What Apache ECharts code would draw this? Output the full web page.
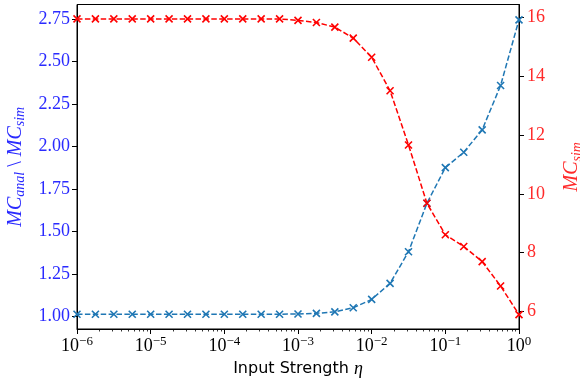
<!DOCTYPE html>
<html>
<head>
<meta charset="utf-8">
<script src="https://cdn.jsdelivr.net/npm/echarts@6/dist/echarts.min.js"></script>
<style>html,body{margin:0;padding:0;background:#fff}#c{width:580px;height:384px}</style>
</head>
<body>
<div id="c"></div>
<script>
// Input strengths (sample points)
var eta = [1e-6, 1.778e-6, 3.162e-6, 5.623e-6,
           1e-5, 1.778e-5, 3.162e-5, 5.623e-5,
           1e-4, 1.778e-4, 3.162e-4, 5.623e-4,
           1e-3, 1.778e-3, 3.162e-3, 5.623e-3,
           1e-2, 1.778e-2, 3.162e-2, 5.623e-2,
           1e-1, 1.778e-1, 3.162e-1, 5.623e-1, 1];
// MC_anal \ MC_sim (left axis)
var ratio = [1.015, 1.015, 1.015, 1.015, 1.015, 1.015, 1.015, 1.015, 1.015, 1.015,
             1.015, 1.015, 1.016, 1.020, 1.029, 1.053, 1.102, 1.196, 1.382, 1.667,
             1.876, 1.967, 2.098, 2.359, 2.745];
// MC_sim (right axis)
var mcSim = [15.94, 15.94, 15.94, 15.94, 15.94, 15.94, 15.94, 15.94, 15.94, 15.94,
             15.94, 15.94, 15.89, 15.82, 15.66, 15.29, 14.64, 13.50, 11.66, 9.68,
             8.61, 8.21, 7.70, 6.87, 5.90];
var leftTicks = [1.00, 1.25, 1.50, 1.75, 2.00, 2.25, 2.50, 2.75];
var rightTicks = [6, 8, 10, 12, 14, 16];
var xMajor = [1e-6, 1e-5, 1e-4, 1e-3, 1e-2, 1e-1, 1];
var xMinor = [];
for (var k = -6; k < 0; k++) for (var m = 2; m <= 9; m++) xMinor.push(m * Math.pow(10, k));

var BLUE = '#1f77b4', RED = '#ff0000';
var serif = '"Liberation Serif", "DejaVu Serif", serif';
var xMark = 'path://M0,0L10,10M10,0L0,10';

function pairs(xs, ys) { return xs.map(function (x, i) { return [x, ys[i]]; }); }

function nameRich(col) {
  return {
    i: {fontFamily: serif, fontStyle: 'italic', fontSize: 20, color: col, lineHeight: 22, verticalAlign: 'top'},
    r: {fontFamily: serif, fontSize: 20, color: col, lineHeight: 22, verticalAlign: 'top'},
    s: {fontFamily: serif, fontStyle: 'italic', fontSize: 14, color: col, lineHeight: 14, verticalAlign: 'bottom', padding: [14, 0, 0, 0]}
  };
}

var chart = echarts.init(document.getElementById('c'), null, {renderer: 'canvas'});
chart.setOption({
  animation: false,
  backgroundColor: '#fff',
  grid: {left: 77, right: 61, top: 4.5, bottom: 55, containLabel: false, outerBoundsMode: 'none',
    show: true, borderColor: '#000', borderWidth: 1, backgroundColor: 'transparent'},
  xAxis: [{
    type: 'log', logBase: 10, min: 1e-6, max: 1,
    name: 'Input Strength {e|η}', nameLocation: 'middle', nameGap: 24,
    nameTextStyle: {fontFamily: '"DejaVu Sans", sans-serif', fontSize: 16, color: '#000',
      rich: {e: {fontFamily: serif, fontStyle: 'italic', fontSize: 18, color: '#000'}}},
    axisLine: {onZero: false, lineStyle: {color: '#000', width: 1}},
    axisTick: {show: true, inside: false, length: 5, lineStyle: {color: '#000', width: 1}, customValues: xMajor},
    splitLine: {show: false},
    axisLabel: {
      margin: 6, customValues: xMajor, hideOverlap: false,
      formatter: function (v) {
        var e = Math.round(Math.log10(v));
        return '{b|10}{s|' + (e < 0 ? '\u2212' + (-e) : e) + '}';
      },
      rich: {
        b: {fontFamily: serif, fontSize: 18, color: '#000', lineHeight: 20, verticalAlign: 'bottom', padding: [6, 0, 0, 0]},
        s: {fontFamily: serif, fontSize: 13, color: '#000', lineHeight: 14, verticalAlign: 'top'}
      }
    }
  }, {
    type: 'log', logBase: 10, min: 1e-6, max: 1, position: 'bottom',
    axisLine: {show: false}, splitLine: {show: false}, axisLabel: {show: false},
    axisTick: {show: true, inside: false, length: 2.5, lineStyle: {color: '#000', width: 0.8}, customValues: xMinor}
  }],
  yAxis: [{
    type: 'value', min: 0.928, max: 2.835, position: 'left',
    name: '{i|MC}{s|anal}{r| \\ }{i|MC}{s|sim}', nameLocation: 'middle', nameRotate: 90, nameGap: 36,
    nameTextStyle: {rich: nameRich('#2a2aff')},
    axisLine: {show: true, onZero: false, lineStyle: {color: '#000', width: 1}},
    axisTick: {show: true, length: 5, lineStyle: {color: '#000', width: 1}, customValues: leftTicks},
    splitLine: {show: false},
    axisLabel: {margin: 7, customValues: leftTicks, fontFamily: serif, fontSize: 18, color: '#2a2aff',
      formatter: function (v) { return v.toFixed(2); }}
  }, {
    type: 'value', min: 5.41, max: 16.43, position: 'right',
    name: '{i|MC}{s|sim}', nameLocation: 'middle', nameRotate: 90, nameGap: 26,
    nameTextStyle: {rich: nameRich('#ff2a2a')},
    axisLine: {show: true, onZero: false, lineStyle: {color: '#000', width: 1}},
    axisTick: {show: true, length: 5, lineStyle: {color: '#000', width: 1}, customValues: rightTicks},
    splitLine: {show: false},
    axisLabel: {margin: 8, customValues: rightTicks, fontFamily: serif, fontSize: 18, color: '#ff2a2a'}
  }],
  series: [{
    type: 'line', xAxisIndex: 0, yAxisIndex: 0, data: pairs(eta, ratio),
    symbol: xMark, symbolSize: 7, showAllSymbol: true,
    lineStyle: {color: BLUE, width: 1.5, type: [5.5, 2.4]},
    itemStyle: {color: BLUE, borderColor: BLUE, borderWidth: 1.6},
    clip: false, z: 3
  }, {
    type: 'line', xAxisIndex: 0, yAxisIndex: 1, data: pairs(eta, mcSim),
    symbol: xMark, symbolSize: 7, showAllSymbol: true,
    lineStyle: {color: RED, width: 1.5, type: [5.5, 2.4]},
    itemStyle: {color: RED, borderColor: RED, borderWidth: 1.6},
    clip: false, z: 4
  }]
});
</script>
</body>
</html>
